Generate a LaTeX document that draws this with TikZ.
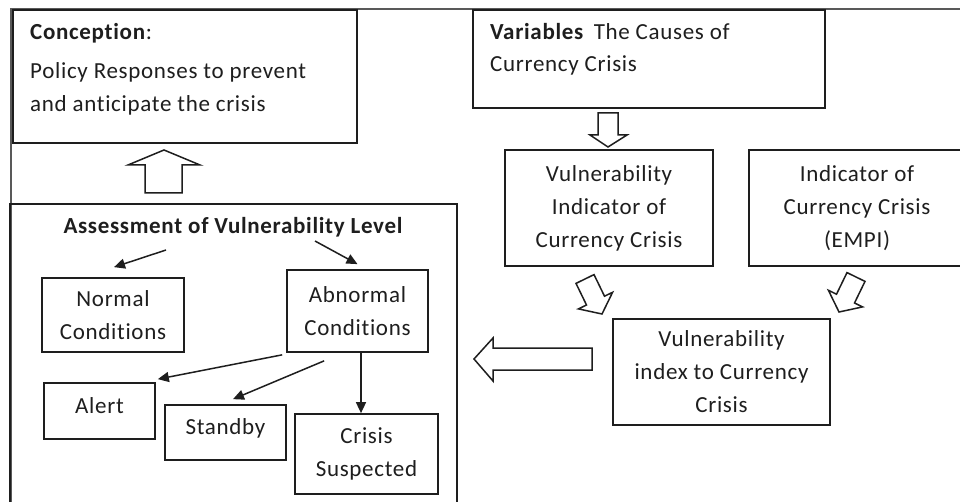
\documentclass[tikz,border=0pt]{standalone}
\usepackage{fontspec}
\setmainfont{Carlito}[LetterSpace=3,Ligatures={NoCommon}]
\usetikzlibrary{arrows.meta,calc}
\definecolor{ink}{HTML}{1E1E1E}
\tikzset{
  box/.style={draw=ink, line width=1.7pt, inner sep=0pt, align=center, text=ink,
    font=\fontsize{23}{33}\selectfont},
  txt/.style={inner sep=0pt, text=ink, font=\fontsize{23}{33}\selectfont},
  conn/.style={draw=ink, line width=1.5pt, -{Triangle[length=11pt,width=10pt]}},
  blockarrow/.style={draw=ink, line width=1.5pt, fill=white, line join=miter},
  frame/.style={draw=black!65, line width=2.2pt}
}
\begin{document}
\begin{tikzpicture}[x=1pt,y=-1pt]
\useasboundingbox (0,0) rectangle (960,502);
\clip (0,0) rectangle (960,502);
\fill[white] (0,0) rectangle (960,502);
% outer frame
\draw[frame] (11,502) -- (11,9) -- (960,9);

% top-left box
\node[box, minimum width=344pt, minimum height=133pt] (concept) at (185,76.5) {};
\node[txt, anchor=base west] (concepthead) at (30,40) {\textbf{Conception}:};
\node[txt, anchor=base west] (conceptl1) at (30,79) {Policy Responses to prevent};
\node[txt, anchor=base west] (conceptl2) at (30,112) {and anticipate the crisis};

% top-right box
\node[box, minimum width=352pt, minimum height=98pt] (vars) at (649,59) {};
\node[txt, anchor=base west] (varsl1) at (490,40) {\textbf{Variables}\, The Causes of};
\node[txt, anchor=base west] (varsl2) at (490,72) {Currency Crisis};

% right side boxes
\node[box, minimum width=208pt, minimum height=116pt] (vind) at (609,208)
  {Vulnerability\\Indicator of\\Currency Crisis};
\node[box, minimum width=216pt, minimum height=116pt] (empi) at (857,208)
  {Indicator of\\Currency Crisis\\(EMPI)};
\node[box, minimum width=217pt, minimum height=106pt] (vidx) at (721.5,372)
  {Vulnerability\\index to Currency\\Crisis};

% assessment box
\node[box, minimum width=447pt, minimum height=306pt] (assess) at (233.5,357) {};
\node[txt, font=\fontsize{23}{33}\bfseries] (title) at (233,227) {Assessment of Vulnerability Level};
\node[box, minimum width=142pt, minimum height=74pt] (normal) at (113,315)
  {Normal\\Conditions};
\node[box, minimum width=141pt, minimum height=82pt] (abnormal) at (357.5,311)
  {Abnormal\\Conditions};
\node[box, minimum width=111pt, minimum height=56pt] (alert) at (99.5,411) {};
\node[txt] (alerttxt) at (99.5,406) {Alert};
\node[box, minimum width=121pt, minimum height=55pt] (standby) at (225.5,432.5) {};
\node[txt] (standbytxt) at (225.5,428) {Standby};
\node[box, minimum width=143pt, minimum height=80pt] (crisis) at (366.5,454)
  {Crisis\\Suspected};

% connectors inside assessment
\coordinate (tA) at (166,250);
\coordinate (tB) at (315,241);
\draw[conn] (tA) -- ([xshift=1pt,yshift=10pt]normal.north);
\draw[conn] (tB) -- ([yshift=5pt]abnormal.north);
\draw[conn] ([xshift=-4pt,yshift=-2pt]abnormal.south west) -- ([xshift=2pt,yshift=3pt]alert.north east);
\draw[conn] ([xshift=38pt,yshift=-8pt]abnormal.south west) -- ([xshift=7.5pt,yshift=5pt]standby.north);
\draw[conn] ([xshift=3.5pt]abnormal.south) -- ([xshift=3.5pt]abnormal.south |- crisis.north);

% block arrows
% up arrow (assessment -> conception)
\draw[blockarrow] (145,193) -- (145,165) -- (128,165) -- (164,150) -- (200,165) -- (182,165) -- (182,193) -- cycle;
% down arrow (variables -> indicator)
\draw[blockarrow] (598,113) -- (598,135) -- (590,135) -- (608,147) -- (627,135) -- (618,135) -- (618,113) -- cycle;
% diagonal arrows into index box
\draw[blockarrow] (594,274.6) -- (604.5,296.2) -- (612.6,292.3) -- (602,314) -- (578.4,308.9) -- (586.5,305) -- (576,283.4) -- cycle;
\draw[blockarrow] (865,281.4) -- (854.5,303) -- (862.6,306.9) -- (839,312) -- (828.4,290.3) -- (836.5,294.2) -- (847,272.6) -- cycle;
% left arrow (index -> assessment)
\draw[blockarrow] (592,348) -- (493,348) -- (493,338) -- (474,359) -- (493,381) -- (493,370) -- (592,370) -- cycle;
\end{tikzpicture}
\end{document}
